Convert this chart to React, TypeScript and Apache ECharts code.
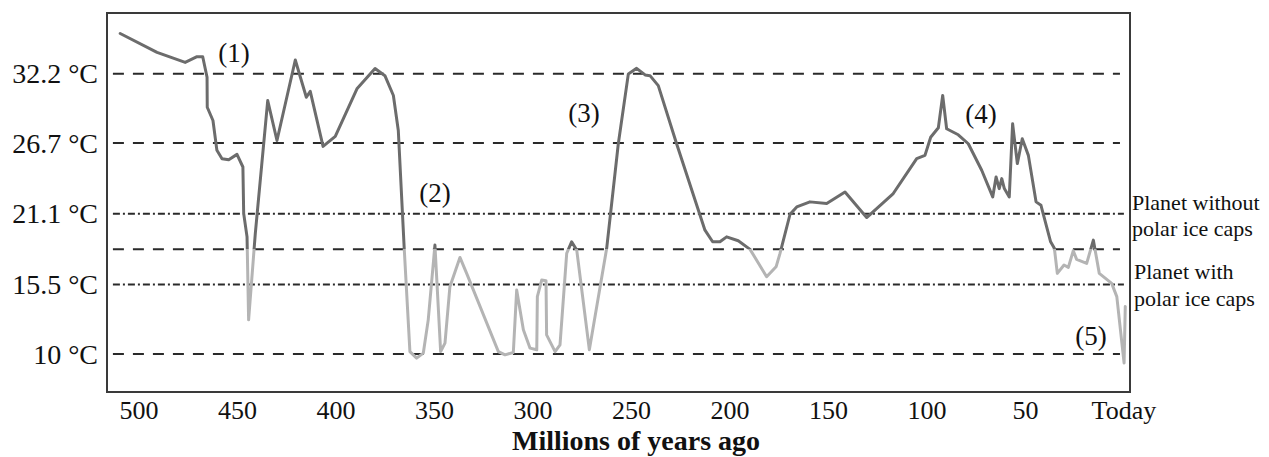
import React, { useEffect, useRef } from "react";
import * as echarts from "echarts";

// Millions of years ago
const ages = [
  509.6, 490.9, 476.6, 470.6, 467.7, 465.5, 465.4, 462.5, 460.5, 457.9, 454.5, 450.3, 447.3, 446.9, 445.2, 444.4,
  441.0, 434.7, 430.0, 420.7, 415.1, 413.1, 406.6, 400.4, 389.4, 380.2, 375.2, 370.9, 368.4, 365.4, 362.5, 359.1,
  355.7, 353.2, 349.8, 346.9, 344.7, 342.2, 337.1, 333.7, 317.6, 314.2, 310.0, 308.3, 304.9, 301.5, 298.1, 297.8,
  295.6, 293.4, 293.1, 288.8, 286.3, 282.9, 280.4, 277.8, 271.4, 262.6, 256.7, 251.6, 247.4, 243.1, 240.6, 236.4,
  227.1, 212.7, 208.8, 205.1, 201.7, 195.8, 189.8, 181.4, 176.6, 174.6, 169.5, 166.1, 159.4, 150.9, 141.6, 130.6,
  117.1, 105.2, 101.0, 98.1, 94.2, 92.0, 90.0, 84.1, 79.0, 72.2, 66.6, 64.9, 63.3, 62.0, 60.7, 58.2,
  56.5, 54.1, 51.6, 48.5, 44.6, 42.1, 37.2, 35.3, 33.8, 30.4, 28.2, 25.7, 24.0, 18.9, 15.5, 12.5,
  6.2, 3.6, -0.1, -0.7,
];

// Global mean temperature (°C)
const temps = [
  35.38, 33.88, 33.09, 33.54, 33.54, 31.91, 29.54, 28.49, 26.13, 25.47, 25.39, 25.81, 24.81, 21.13, 19.28, 12.71,
  19.55, 30.07, 26.91, 33.28, 30.33, 30.8, 26.44, 27.23, 31.0, 32.6, 32.04, 30.47, 27.7, 18.37, 10.2, 9.68,
  10.08, 12.71, 18.63, 10.2, 10.87, 15.34, 17.65, 16.39, 10.2, 9.94, 10.13, 15.07, 11.92, 10.47, 10.34, 14.55,
  15.86, 15.81, 11.52, 10.2, 10.73, 17.97, 18.89, 18.23, 10.34, 18.37, 26.65, 32.18, 32.62, 32.1, 32.04, 31.25,
  26.65, 19.81, 18.89, 18.89, 19.28, 18.97, 18.29, 16.12, 16.91, 17.97, 21.07, 21.65, 22.05, 21.92, 22.83, 20.81,
  22.71, 25.47, 25.73, 27.17, 27.92, 30.47, 27.84, 27.36, 26.65, 24.55, 22.44, 24.02, 23.1, 23.89, 23.1, 22.44,
  28.23, 25.08, 27.05, 25.73, 22.05, 21.78, 18.89, 18.37, 16.39, 17.05, 16.87, 18.18, 17.5, 17.18, 19.02, 16.39,
  15.6, 14.55, 9.29, 13.76,
];

const ageTicks = [500, 450, 400, 350, 300, 250, 200, 150, 100, 50, 0];
const tempTicks = [10, 15.5, 21.1, 26.7, 32.2];
const dashedLevels = [32.2, 26.7, 18.3, 10];
const dashDotLevels = [21.1, 15.5];
const iceThreshold = 18.3;
const refSpan = [513.3, 2.0];
const annotations = ["(1)", "(2)", "(3)", "(4)", "(5)"];
const sideLabels = ["Planet without", "polar ice caps", "Planet with", "polar ice caps"];

const SERIF = "'Liberation Serif', 'Times New Roman', 'DejaVu Serif', serif";

export default function App() {
  const ref = useRef<HTMLDivElement>(null);

  useEffect(() => {
    if (!ref.current) return;
    const chart = echarts.init(ref.current, null, { renderer: "svg" });

    const refSeries = [
      ...dashedLevels.map((lv) => ({
        type: "line",
        silent: true,
        symbol: "none",
        z: 1,
        data: [
          [refSpan[0], lv],
          [refSpan[1], lv],
        ],
        lineStyle: { color: "#2a2a2a", width: 2, type: [11, 9] },
      })),
      ...dashDotLevels.map((lv) => ({
        type: "line",
        silent: true,
        symbol: "none",
        z: 1,
        data: [
          [refSpan[0], lv],
          [refSpan[1] - 2, lv],
        ],
        lineStyle: { color: "#2a2a2a", width: 2, type: [7, 3, 2, 3] },
      })),
    ];

    const annPos = [
      [234, 53],
      [435, 193],
      [584, 113],
      [981, 114],
      [1091, 336],
    ];
    const sidePos = [
      [1132, 202],
      [1132, 228],
      [1134, 271],
      [1134, 298],
    ];

    chart.setOption({
      animation: false,
      backgroundColor: "#ffffff",
      grid: {
        left: 107,
        right: 139,
        top: 13,
        bottom: 65,
        show: true,
        borderColor: "#3a3a3a",
        borderWidth: 2,
        backgroundColor: "transparent",
      },
      xAxis: {
        type: "value",
        inverse: true,
        min: -3.1,
        max: 516.3,
        axisLine: { show: false },
        axisTick: { show: false },
        splitLine: { show: false },
        axisLabel: {
          customValues: ageTicks,
          formatter: (v: number) => (v === 0 ? "Today" : String(v)),
          fontFamily: SERIF,
          fontSize: 26,
          lineHeight: 24,
          color: "#111",
          margin: 6,
        },
      },
      yAxis: {
        type: "value",
        min: 7,
        max: 37,
        axisLine: { show: false },
        axisTick: { show: false },
        splitLine: { show: false },
        axisLabel: {
          customValues: tempTicks,
          formatter: (v: number) => `${v} °C`,
          fontFamily: SERIF,
          fontSize: 28,
          color: "#111",
          margin: 9,
        },
      },
      visualMap: {
        type: "piecewise",
        show: false,
        dimension: 1,
        seriesIndex: 0,
        pieces: [
          { min: 0, max: iceThreshold, color: "#b4b4b4" },
          { min: iceThreshold, max: 60, color: "#6c6c6c" },
        ],
      },
      series: [
        {
          type: "line",
          z: 3,
          showSymbol: false,
          symbol: "none",
          data: ages.map((a, i) => [a, temps[i]]),
          lineStyle: { width: 3, join: "round", cap: "round" },
        },
        ...refSeries,
      ],
      graphic: [
        ...annotations.map((t, i) => ({
          type: "text",
          x: annPos[i][0],
          y: annPos[i][1],
          style: {
            text: t,
            fontFamily: SERIF,
            fontSize: 27,
            fill: "#111",
            textAlign: "center",
            textVerticalAlign: "middle",
          },
        })),
        ...sideLabels.map((t, i) => ({
          type: "text",
          x: sidePos[i][0],
          y: sidePos[i][1],
          style: {
            text: t,
            fontFamily: SERIF,
            fontSize: 22,
            lineHeight: 22,
            fill: "#111",
            textAlign: "left",
            textVerticalAlign: "middle",
          },
        })),
        {
          type: "text",
          x: 636,
          y: 440,
          style: {
            text: "Millions of years ago",
            fontFamily: SERIF,
            fontSize: 28,
            lineHeight: 24,
            fontWeight: "bold",
            fill: "#111",
            textAlign: "center",
            textVerticalAlign: "middle",
          },
        },
      ],
    });

    return () => chart.dispose();
  }, []);

  return (
    <div
      ref={ref}
      style={{ position: "fixed", left: 0, top: 0, width: 1269, height: 457, background: "#fff" }}
    />
  );
}
